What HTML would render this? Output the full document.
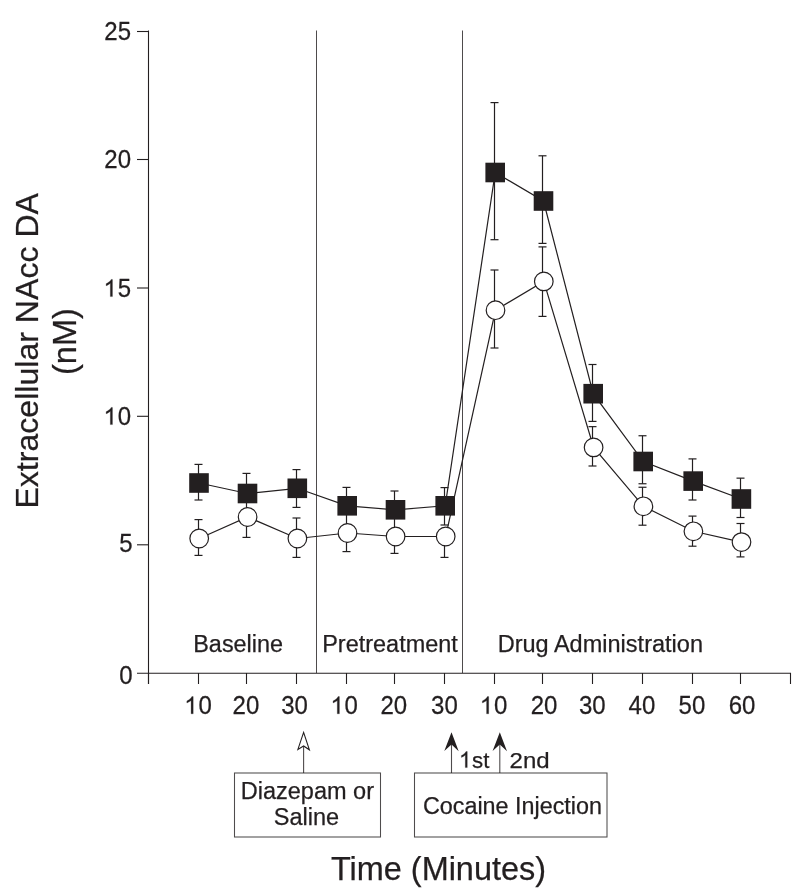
<!DOCTYPE html>
<html><head><meta charset="utf-8"><style>
html,body{margin:0;padding:0;background:#fff;}
svg{display:block;will-change:transform;}
text{font-family:"Liberation Sans", sans-serif;fill:#231f20;stroke:#231f20;stroke-width:0.25px;}
</style></head><body>
<svg width="800" height="896" viewBox="0 0 800 896">
<rect width="800" height="896" fill="#fff"/>
<line x1="148.5" y1="30.5" x2="148.5" y2="684" stroke="#231f20" stroke-width="1.1"/>
<line x1="137" y1="673.2" x2="791" y2="673.2" stroke="#231f20" stroke-width="1.1"/>
<line x1="137" y1="31.5" x2="148.5" y2="31.5" stroke="#231f20" stroke-width="1.1"/>
<text transform="translate(104.3,39.8) scale(1,1.04)" font-size="24">2</text>
<text transform="translate(117.65,39.8) scale(1,1.04)" font-size="24">5</text>
<line x1="137" y1="159.5" x2="148.5" y2="159.5" stroke="#231f20" stroke-width="1.1"/>
<text transform="translate(104.3,167.8) scale(1,1.04)" font-size="24">2</text>
<text transform="translate(117.65,167.8) scale(1,1.04)" font-size="24">0</text>
<line x1="137" y1="288" x2="148.5" y2="288" stroke="#231f20" stroke-width="1.1"/>
<path transform="translate(104.3,296.6) scale(0.01172,-0.01219)" d="M695 0H515V1098Q450 1038 344.5 979T155 890V1057Q307 1125 421 1221T582 1409H695V0Z" fill="#231f20" stroke="#231f20" stroke-width="0.25" vector-effect="non-scaling-stroke"/>
<text transform="translate(117.65,296.6) scale(1,1.04)" font-size="24">5</text>
<line x1="137" y1="416.3" x2="148.5" y2="416.3" stroke="#231f20" stroke-width="1.1"/>
<path transform="translate(104.3,424.6) scale(0.01172,-0.01219)" d="M695 0H515V1098Q450 1038 344.5 979T155 890V1057Q307 1125 421 1221T582 1409H695V0Z" fill="#231f20" stroke="#231f20" stroke-width="0.25" vector-effect="non-scaling-stroke"/>
<text transform="translate(117.65,424.6) scale(1,1.04)" font-size="24">0</text>
<line x1="137" y1="544.8" x2="148.5" y2="544.8" stroke="#231f20" stroke-width="1.1"/>
<text transform="translate(119.35,552.4) scale(1,1.04)" font-size="24">5</text>
<text transform="translate(119.35,683.6) scale(1,1.04)" font-size="24">0</text>
<line x1="148.5" y1="673" x2="148.5" y2="684" stroke="#231f20" stroke-width="1.1"/>
<line x1="198.5" y1="673" x2="198.5" y2="684" stroke="#231f20" stroke-width="1.1"/>
<line x1="246.5" y1="673" x2="246.5" y2="684" stroke="#231f20" stroke-width="1.1"/>
<line x1="296.5" y1="673" x2="296.5" y2="684" stroke="#231f20" stroke-width="1.1"/>
<line x1="346.5" y1="673" x2="346.5" y2="684" stroke="#231f20" stroke-width="1.1"/>
<line x1="394.5" y1="673" x2="394.5" y2="684" stroke="#231f20" stroke-width="1.1"/>
<line x1="444.5" y1="673" x2="444.5" y2="684" stroke="#231f20" stroke-width="1.1"/>
<line x1="494.5" y1="673" x2="494.5" y2="684" stroke="#231f20" stroke-width="1.1"/>
<line x1="542.5" y1="673" x2="542.5" y2="684" stroke="#231f20" stroke-width="1.1"/>
<line x1="592.5" y1="673" x2="592.5" y2="684" stroke="#231f20" stroke-width="1.1"/>
<line x1="642.5" y1="673" x2="642.5" y2="684" stroke="#231f20" stroke-width="1.1"/>
<line x1="692.5" y1="673" x2="692.5" y2="684" stroke="#231f20" stroke-width="1.1"/>
<line x1="740.5" y1="673" x2="740.5" y2="684" stroke="#231f20" stroke-width="1.1"/>
<line x1="790.5" y1="673" x2="790.5" y2="684" stroke="#231f20" stroke-width="1.1"/>
<path transform="translate(185.05,713.8) scale(0.01172,-0.01219)" d="M695 0H515V1098Q450 1038 344.5 979T155 890V1057Q307 1125 421 1221T582 1409H695V0Z" fill="#231f20" stroke="#231f20" stroke-width="0.25" vector-effect="non-scaling-stroke"/>
<text transform="translate(198.4,713.8) scale(1,1.04)" font-size="24">0</text>
<text transform="translate(232.55,713.8) scale(1,1.04)" font-size="24">2</text>
<text transform="translate(245.9,713.8) scale(1,1.04)" font-size="24">0</text>
<text transform="translate(281.25,713.8) scale(1,1.04)" font-size="24">3</text>
<text transform="translate(294.6,713.8) scale(1,1.04)" font-size="24">0</text>
<path transform="translate(331.25,713.8) scale(0.01172,-0.01219)" d="M695 0H515V1098Q450 1038 344.5 979T155 890V1057Q307 1125 421 1221T582 1409H695V0Z" fill="#231f20" stroke="#231f20" stroke-width="0.25" vector-effect="non-scaling-stroke"/>
<text transform="translate(344.6,713.8) scale(1,1.04)" font-size="24">0</text>
<text transform="translate(380.4,713.8) scale(1,1.04)" font-size="24">2</text>
<text transform="translate(393.75,713.8) scale(1,1.04)" font-size="24">0</text>
<text transform="translate(431.05,713.8) scale(1,1.04)" font-size="24">3</text>
<text transform="translate(444.4,713.8) scale(1,1.04)" font-size="24">0</text>
<path transform="translate(480.55,713.8) scale(0.01172,-0.01219)" d="M695 0H515V1098Q450 1038 344.5 979T155 890V1057Q307 1125 421 1221T582 1409H695V0Z" fill="#231f20" stroke="#231f20" stroke-width="0.25" vector-effect="non-scaling-stroke"/>
<text transform="translate(493.9,713.8) scale(1,1.04)" font-size="24">0</text>
<text transform="translate(530.75,713.8) scale(1,1.04)" font-size="24">2</text>
<text transform="translate(544.1,713.8) scale(1,1.04)" font-size="24">0</text>
<text transform="translate(579,713.8) scale(1,1.04)" font-size="24">3</text>
<text transform="translate(592.35,713.8) scale(1,1.04)" font-size="24">0</text>
<text transform="translate(628.55,713.8) scale(1,1.04)" font-size="24">4</text>
<text transform="translate(641.9,713.8) scale(1,1.04)" font-size="24">0</text>
<text transform="translate(678.55,713.8) scale(1,1.04)" font-size="24">5</text>
<text transform="translate(691.9,713.8) scale(1,1.04)" font-size="24">0</text>
<text transform="translate(728.75,713.8) scale(1,1.04)" font-size="24">6</text>
<text transform="translate(742.1,713.8) scale(1,1.04)" font-size="24">0</text>
<line x1="316.5" y1="30.5" x2="316.5" y2="673" stroke="#231f20" stroke-width="1" opacity="0.8"/>
<line x1="462.5" y1="30.5" x2="462.5" y2="673" stroke="#231f20" stroke-width="1" opacity="0.8"/>
<polyline fill="none" stroke="#231f20" stroke-width="1.2" points="199,483 247.5,493.5 297.3,488.3 347.2,505.8 395.5,509.8 445.2,505.8 495.2,172.5 543.5,201 593.2,393.7 643.2,461.5 693.2,481.1 741.4,499"/>
<polyline fill="none" stroke="#231f20" stroke-width="1.2" points="199.2,538.5 247.6,517 297.4,538.5 347.5,533 395.6,536.5 445.7,536.5 495.5,310.2 543.8,281.4 593.6,447.4 643.4,506.3 693.4,531.3 741.5,542.1"/>
<line x1="246.5" y1="493.5" x2="246.5" y2="517" stroke="#231f20" stroke-width="1.2"/>
<line x1="346.5" y1="505.8" x2="346.5" y2="533" stroke="#231f20" stroke-width="1.2"/>
<line x1="394.5" y1="509.8" x2="394.5" y2="536.5" stroke="#231f20" stroke-width="1.2"/>
<line x1="198.5" y1="483" x2="198.5" y2="464.4" stroke="#231f20" stroke-width="1.2"/>
<line x1="194.5" y1="464.4" x2="202.5" y2="464.4" stroke="#231f20" stroke-width="1.2"/>
<line x1="198.5" y1="483" x2="198.5" y2="500" stroke="#231f20" stroke-width="1.2"/>
<line x1="194.5" y1="500" x2="202.5" y2="500" stroke="#231f20" stroke-width="1.2"/>
<line x1="246.5" y1="493.5" x2="246.5" y2="473.4" stroke="#231f20" stroke-width="1.2"/>
<line x1="242.5" y1="473.4" x2="250.5" y2="473.4" stroke="#231f20" stroke-width="1.2"/>
<line x1="296.5" y1="488.3" x2="296.5" y2="469.6" stroke="#231f20" stroke-width="1.2"/>
<line x1="292.5" y1="469.6" x2="300.5" y2="469.6" stroke="#231f20" stroke-width="1.2"/>
<line x1="296.5" y1="488.3" x2="296.5" y2="507.4" stroke="#231f20" stroke-width="1.2"/>
<line x1="292.5" y1="507.4" x2="300.5" y2="507.4" stroke="#231f20" stroke-width="1.2"/>
<line x1="346.5" y1="505.8" x2="346.5" y2="487.4" stroke="#231f20" stroke-width="1.2"/>
<line x1="342.5" y1="487.4" x2="350.5" y2="487.4" stroke="#231f20" stroke-width="1.2"/>
<line x1="394.5" y1="509.8" x2="394.5" y2="491" stroke="#231f20" stroke-width="1.2"/>
<line x1="390.5" y1="491" x2="398.5" y2="491" stroke="#231f20" stroke-width="1.2"/>
<line x1="444.5" y1="505.8" x2="444.5" y2="487.6" stroke="#231f20" stroke-width="1.2"/>
<line x1="440.5" y1="487.6" x2="448.5" y2="487.6" stroke="#231f20" stroke-width="1.2"/>
<line x1="444.5" y1="505.8" x2="444.5" y2="525" stroke="#231f20" stroke-width="1.2"/>
<line x1="440.5" y1="525" x2="448.5" y2="525" stroke="#231f20" stroke-width="1.2"/>
<line x1="494.5" y1="172.5" x2="494.5" y2="102.6" stroke="#231f20" stroke-width="1.2"/>
<line x1="490.5" y1="102.6" x2="498.5" y2="102.6" stroke="#231f20" stroke-width="1.2"/>
<line x1="494.5" y1="172.5" x2="494.5" y2="239.7" stroke="#231f20" stroke-width="1.2"/>
<line x1="490.5" y1="239.7" x2="498.5" y2="239.7" stroke="#231f20" stroke-width="1.2"/>
<line x1="542.5" y1="201" x2="542.5" y2="155.8" stroke="#231f20" stroke-width="1.2"/>
<line x1="538.5" y1="155.8" x2="546.5" y2="155.8" stroke="#231f20" stroke-width="1.2"/>
<line x1="542.5" y1="201" x2="542.5" y2="243.4" stroke="#231f20" stroke-width="1.2"/>
<line x1="538.5" y1="243.4" x2="546.5" y2="243.4" stroke="#231f20" stroke-width="1.2"/>
<line x1="592.5" y1="393.7" x2="592.5" y2="364.5" stroke="#231f20" stroke-width="1.2"/>
<line x1="588.5" y1="364.5" x2="596.5" y2="364.5" stroke="#231f20" stroke-width="1.2"/>
<line x1="592.5" y1="393.7" x2="592.5" y2="421.4" stroke="#231f20" stroke-width="1.2"/>
<line x1="588.5" y1="421.4" x2="596.5" y2="421.4" stroke="#231f20" stroke-width="1.2"/>
<line x1="642.5" y1="461.5" x2="642.5" y2="435.75" stroke="#231f20" stroke-width="1.2"/>
<line x1="638.5" y1="435.75" x2="646.5" y2="435.75" stroke="#231f20" stroke-width="1.2"/>
<line x1="642.5" y1="461.5" x2="642.5" y2="483.75" stroke="#231f20" stroke-width="1.2"/>
<line x1="638.5" y1="483.75" x2="646.5" y2="483.75" stroke="#231f20" stroke-width="1.2"/>
<line x1="692.5" y1="481.1" x2="692.5" y2="458.9" stroke="#231f20" stroke-width="1.2"/>
<line x1="688.5" y1="458.9" x2="696.5" y2="458.9" stroke="#231f20" stroke-width="1.2"/>
<line x1="692.5" y1="481.1" x2="692.5" y2="500" stroke="#231f20" stroke-width="1.2"/>
<line x1="688.5" y1="500" x2="696.5" y2="500" stroke="#231f20" stroke-width="1.2"/>
<line x1="740.5" y1="499" x2="740.5" y2="478.15" stroke="#231f20" stroke-width="1.2"/>
<line x1="736.5" y1="478.15" x2="744.5" y2="478.15" stroke="#231f20" stroke-width="1.2"/>
<line x1="740.5" y1="499" x2="740.5" y2="517.5" stroke="#231f20" stroke-width="1.2"/>
<line x1="736.5" y1="517.5" x2="744.5" y2="517.5" stroke="#231f20" stroke-width="1.2"/>
<line x1="198.5" y1="538.5" x2="198.5" y2="519.6" stroke="#231f20" stroke-width="1.2"/>
<line x1="194.5" y1="519.6" x2="202.5" y2="519.6" stroke="#231f20" stroke-width="1.2"/>
<line x1="198.5" y1="538.5" x2="198.5" y2="555.4" stroke="#231f20" stroke-width="1.2"/>
<line x1="194.5" y1="555.4" x2="202.5" y2="555.4" stroke="#231f20" stroke-width="1.2"/>
<line x1="246.5" y1="517" x2="246.5" y2="537.4" stroke="#231f20" stroke-width="1.2"/>
<line x1="242.5" y1="537.4" x2="250.5" y2="537.4" stroke="#231f20" stroke-width="1.2"/>
<line x1="296.5" y1="538.5" x2="296.5" y2="518" stroke="#231f20" stroke-width="1.2"/>
<line x1="292.5" y1="518" x2="300.5" y2="518" stroke="#231f20" stroke-width="1.2"/>
<line x1="296.5" y1="538.5" x2="296.5" y2="557.4" stroke="#231f20" stroke-width="1.2"/>
<line x1="292.5" y1="557.4" x2="300.5" y2="557.4" stroke="#231f20" stroke-width="1.2"/>
<line x1="346.5" y1="533" x2="346.5" y2="551.6" stroke="#231f20" stroke-width="1.2"/>
<line x1="342.5" y1="551.6" x2="350.5" y2="551.6" stroke="#231f20" stroke-width="1.2"/>
<line x1="394.5" y1="536.5" x2="394.5" y2="553.4" stroke="#231f20" stroke-width="1.2"/>
<line x1="390.5" y1="553.4" x2="398.5" y2="553.4" stroke="#231f20" stroke-width="1.2"/>
<line x1="444.5" y1="536.5" x2="444.5" y2="557.4" stroke="#231f20" stroke-width="1.2"/>
<line x1="440.5" y1="557.4" x2="448.5" y2="557.4" stroke="#231f20" stroke-width="1.2"/>
<line x1="494.5" y1="310.2" x2="494.5" y2="270" stroke="#231f20" stroke-width="1.2"/>
<line x1="490.5" y1="270" x2="498.5" y2="270" stroke="#231f20" stroke-width="1.2"/>
<line x1="494.5" y1="310.2" x2="494.5" y2="348" stroke="#231f20" stroke-width="1.2"/>
<line x1="490.5" y1="348" x2="498.5" y2="348" stroke="#231f20" stroke-width="1.2"/>
<line x1="542.5" y1="281.4" x2="542.5" y2="246.9" stroke="#231f20" stroke-width="1.2"/>
<line x1="538.5" y1="246.9" x2="546.5" y2="246.9" stroke="#231f20" stroke-width="1.2"/>
<line x1="542.5" y1="281.4" x2="542.5" y2="316.4" stroke="#231f20" stroke-width="1.2"/>
<line x1="538.5" y1="316.4" x2="546.5" y2="316.4" stroke="#231f20" stroke-width="1.2"/>
<line x1="592.5" y1="447.4" x2="592.5" y2="426.65" stroke="#231f20" stroke-width="1.2"/>
<line x1="588.5" y1="426.65" x2="596.5" y2="426.65" stroke="#231f20" stroke-width="1.2"/>
<line x1="592.5" y1="447.4" x2="592.5" y2="466" stroke="#231f20" stroke-width="1.2"/>
<line x1="588.5" y1="466" x2="596.5" y2="466" stroke="#231f20" stroke-width="1.2"/>
<line x1="642.5" y1="506.3" x2="642.5" y2="487.25" stroke="#231f20" stroke-width="1.2"/>
<line x1="638.5" y1="487.25" x2="646.5" y2="487.25" stroke="#231f20" stroke-width="1.2"/>
<line x1="642.5" y1="506.3" x2="642.5" y2="525.2" stroke="#231f20" stroke-width="1.2"/>
<line x1="638.5" y1="525.2" x2="646.5" y2="525.2" stroke="#231f20" stroke-width="1.2"/>
<line x1="692.5" y1="531.3" x2="692.5" y2="516.1" stroke="#231f20" stroke-width="1.2"/>
<line x1="688.5" y1="516.1" x2="696.5" y2="516.1" stroke="#231f20" stroke-width="1.2"/>
<line x1="692.5" y1="531.3" x2="692.5" y2="546.2" stroke="#231f20" stroke-width="1.2"/>
<line x1="688.5" y1="546.2" x2="696.5" y2="546.2" stroke="#231f20" stroke-width="1.2"/>
<line x1="740.5" y1="542.1" x2="740.5" y2="523.5" stroke="#231f20" stroke-width="1.2"/>
<line x1="736.5" y1="523.5" x2="744.5" y2="523.5" stroke="#231f20" stroke-width="1.2"/>
<line x1="740.5" y1="542.1" x2="740.5" y2="556.9" stroke="#231f20" stroke-width="1.2"/>
<line x1="736.5" y1="556.9" x2="744.5" y2="556.9" stroke="#231f20" stroke-width="1.2"/>
<circle cx="199.2" cy="538.5" r="9.3" fill="#fff" stroke="#231f20" stroke-width="1.2"/>
<circle cx="247.6" cy="517" r="9.3" fill="#fff" stroke="#231f20" stroke-width="1.2"/>
<circle cx="297.4" cy="538.5" r="9.3" fill="#fff" stroke="#231f20" stroke-width="1.2"/>
<circle cx="347.5" cy="533" r="9.3" fill="#fff" stroke="#231f20" stroke-width="1.2"/>
<circle cx="395.6" cy="536.5" r="9.3" fill="#fff" stroke="#231f20" stroke-width="1.2"/>
<circle cx="445.7" cy="536.5" r="9.3" fill="#fff" stroke="#231f20" stroke-width="1.2"/>
<circle cx="495.5" cy="310.2" r="9.3" fill="#fff" stroke="#231f20" stroke-width="1.2"/>
<circle cx="543.8" cy="281.4" r="9.3" fill="#fff" stroke="#231f20" stroke-width="1.2"/>
<circle cx="593.6" cy="447.4" r="9.3" fill="#fff" stroke="#231f20" stroke-width="1.2"/>
<circle cx="643.4" cy="506.3" r="9.3" fill="#fff" stroke="#231f20" stroke-width="1.2"/>
<circle cx="693.4" cy="531.3" r="9.3" fill="#fff" stroke="#231f20" stroke-width="1.2"/>
<circle cx="741.5" cy="542.1" r="9.3" fill="#fff" stroke="#231f20" stroke-width="1.2"/>
<rect x="189.2" y="473.2" width="19.6" height="19.6" fill="#231f20"/>
<rect x="237.7" y="483.7" width="19.6" height="19.6" fill="#231f20"/>
<rect x="287.5" y="478.5" width="19.6" height="19.6" fill="#231f20"/>
<rect x="337.4" y="496" width="19.6" height="19.6" fill="#231f20"/>
<rect x="385.7" y="500" width="19.6" height="19.6" fill="#231f20"/>
<rect x="435.4" y="496" width="19.6" height="19.6" fill="#231f20"/>
<rect x="485.4" y="162.7" width="19.6" height="19.6" fill="#231f20"/>
<rect x="533.7" y="191.2" width="19.6" height="19.6" fill="#231f20"/>
<rect x="583.4" y="383.9" width="19.6" height="19.6" fill="#231f20"/>
<rect x="633.4" y="451.7" width="19.6" height="19.6" fill="#231f20"/>
<rect x="683.4" y="471.3" width="19.6" height="19.6" fill="#231f20"/>
<rect x="731.6" y="489.2" width="19.6" height="19.6" fill="#231f20"/>
<text transform="translate(193.25,652) scale(1,1.0)" font-size="23" textLength="89.8" lengthAdjust="spacingAndGlyphs">Baseline</text>
<text transform="translate(322.2,651.8) scale(1,1.0)" font-size="23" textLength="135.6" lengthAdjust="spacingAndGlyphs">Pretreatment</text>
<text transform="translate(497.7,651.9) scale(1,1.0)" font-size="23" textLength="205.3" lengthAdjust="spacingAndGlyphs">Drug Administration</text>
<rect x="234.5" y="773" width="146" height="64" fill="none" stroke="#231f20" stroke-width="1.05" opacity="0.8"/>
<rect x="414.5" y="773" width="192.5" height="64" fill="none" stroke="#231f20" stroke-width="1.05" opacity="0.8"/>
<text transform="translate(240.7,799.4) scale(1,1.0)" font-size="23" textLength="133.3" lengthAdjust="spacingAndGlyphs">Diazepam or</text>
<text transform="translate(273.8,825.4) scale(1,1.0)" font-size="23" textLength="65.4" lengthAdjust="spacingAndGlyphs">Saline</text>
<text transform="translate(422.9,814) scale(1,1.0)" font-size="23" textLength="179.1" lengthAdjust="spacingAndGlyphs">Cocaine Injection</text>
<path transform="translate(459.7,767.6) scale(0.01087,-0.01143)" d="M695 0H515V1098Q450 1038 344.5 979T155 890V1057Q307 1125 421 1221T582 1409H695V0Z" fill="#231f20" stroke="#231f20" stroke-width="0.25" vector-effect="non-scaling-stroke"/>
<text transform="translate(472.08,767.6) scale(1,1.0)" font-size="22.5" textLength="17.32" lengthAdjust="spacingAndGlyphs">st</text>
<text transform="translate(509.6,767.6) scale(1,1.0)" font-size="22.5" textLength="40.1" lengthAdjust="spacingAndGlyphs">2nd</text>
<line x1="303.6" y1="746" x2="303.6" y2="773" stroke="#231f20" stroke-width="1.1" opacity="0.8"/>
<path d="M303.6,732.4 L309.4,749.8 L303.6,746 L297.9,749.4 Z" fill="#fff" stroke="#231f20" stroke-width="1.1" stroke-linejoin="miter"/>
<line x1="451.5" y1="744" x2="451.5" y2="773" stroke="#231f20" stroke-width="1.1" opacity="0.8"/>
<path d="M451.5,732.2 L458.7,751.2 L451.5,744.6 L444.3,750.9 Z" fill="#231f20"/>
<line x1="499.8" y1="744" x2="499.8" y2="773" stroke="#231f20" stroke-width="1.1" opacity="0.8"/>
<path d="M499.8,732.2 L507,751.2 L499.8,744.6 L492.6,750.9 Z" fill="#231f20"/>
<text transform="translate(331,879.8) scale(1,1.0)" font-size="32.5" textLength="215" lengthAdjust="spacingAndGlyphs">Time (Minutes)</text>
<text transform="translate(37.8,350.8) rotate(-90) scale(1,1.0)" font-size="32.1" text-anchor="middle">Extracellular NAcc DA</text>
<text transform="translate(76.1,341.6) rotate(-90) scale(1,1.02)" font-size="32.5" text-anchor="middle">(nM)</text>
</svg>
</body></html>
